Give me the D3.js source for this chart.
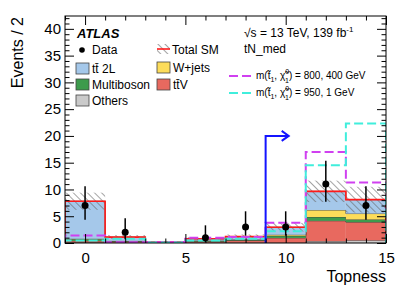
<!DOCTYPE html>
<html>
<head>
<meta charset="utf-8">
<script src="https://cdn.jsdelivr.net/npm/d3@7"></script>
<style>
  body { margin: 0; background: #fff; }
  svg { font-family: "Liberation Sans", Arial, sans-serif; }
</style>
</head>
<body>
<svg width="407" height="292"></svg>
<script>
// bins of width 2 from -1 to 15
var binEdges = [-1, 1, 3, 5, 7, 9, 11, 13, 15];
var binCenters = [0, 2, 4, 6, 8, 10, 12, 14];

// data and its Poisson error bars
var data   = [7, 2, 0, 1, 3, 3, 11, 7];
var dataLo = [4.35, 0.71, 0, 0.17, 1.37, 1.37, 7.7, 4.35];
var dataHi = [10.58, 4.64, 0, 3.3, 5.92, 5.92, 15.35, 10.58];

// backgrounds, stacked bottom to top
var others     = [0.1, 0.05, 0.02, 0.05, 0.05, 0.05, 0.35, 0.5];
var ttV        = [0.3, 0.2, 0.05, 0.2, 0.4, 0.9, 3.8, 3.4];
var multiboson = [0.3, 0.1, 0.05, 0.1, 0.1, 0.4, 0.7, 0.5];
var wjets      = [0.1, 0.05, 0.03, 0.1, 0.1, 0.2, 1.3, 1.1];
var tt2L       = [7.0, 0.7, 0.05, 0.35, 0.55, 1.4, 3.5, 2.6];
var totalUnc   = [1.6, 0.4, 0.1, 0.3, 0.4, 0.8, 2.0, 2.4];

// signals (not stacked)
var sig800 = [1.4, 0.15, 0.15, 1.0, 1.1, 3.8, 17.0, 11.3];
var sig950 = [0.45, 0.8, 0.1, 0.45, 0.8, 2.2, 14.5, 22.3];

var yMajor = [0, 5, 10, 15, 20, 25, 30, 35, 40];
var xMajor = [0, 5, 10, 15];

var svg = d3.select("svg"),
    pLeft = 65, pRight = 386, pTop = 16, pBottom = 243;

var x = d3.scaleLinear().domain([-1, 15]).range([pLeft, pRight]);
var y = d3.scaleLinear().domain([0, 42.4]).range([pBottom, pTop]);

var defs = svg.append("defs");
defs.append("pattern")
    .attr("id", "hatch")
    .attr("patternUnits", "userSpaceOnUse")
    .attr("width", 5).attr("height", 5)
    .attr("patternTransform", "rotate(-45)")
    .append("line")
    .attr("x1", 0).attr("y1", 0).attr("x2", 0).attr("y2", 5)
    .attr("stroke", "#666").attr("stroke-width", 1.2);

defs.append("clipPath").attr("id", "plotclip")
    .append("rect").attr("x", pLeft).attr("y", pTop)
    .attr("width", pRight - pLeft).attr("height", pBottom - pTop);

var layers = [
    {name: "Others", vals: others, color: "#cacaca"},
    {name: "ttV", vals: ttV, color: "#e8695f"},
    {name: "Multiboson", vals: multiboson, color: "#3d9b4c"},
    {name: "W+jets", vals: wjets, color: "#fcdc5a"},
    {name: "tt2L", vals: tt2L, color: "#a5c8ea"}
];

function stepPath(vals) {
    var p = "";
    vals.forEach(function(v, i) {
        var x0 = x(binEdges[i]), x1 = x(binEdges[i + 1]), yy = y(v);
        p += (i === 0 ? "M" + x0 + "," + y(0) + "L" : "L") + x0 + "," + yy + "L" + x1 + "," + yy;
    });
    p += "L" + x(binEdges[binEdges.length - 1]) + "," + y(0);
    return p;
}

var plot = svg.append("g").attr("clip-path", "url(#plotclip)");

// stacked histogram
var base = binCenters.map(function() { return 0; });
layers.forEach(function(l) {
    var rows = binCenters.map(function(c, i) {
        var r = {i: i, y0: base[i], y1: base[i] + l.vals[i]};
        base[i] = r.y1;
        return r;
    });
    plot.append("g").selectAll("rect")
        .data(rows).enter().append("rect")
        .attr("x", function(d) { return x(binEdges[d.i]); })
        .attr("width", function(d) { return x(binEdges[d.i + 1]) - x(binEdges[d.i]); })
        .attr("y", function(d) { return y(d.y1); })
        .attr("height", function(d) { return y(d.y0) - y(d.y1); })
        .attr("fill", l.color);
    // thin dark outline on top of each layer
    plot.append("path")
        .attr("d", stepPath(rows.map(function(d) { return d.y1; })))
        .attr("fill", "none").attr("stroke", "#333").attr("stroke-width", 0.8);
});
var total = base.slice();

// uncertainty band
plot.append("g").selectAll("rect")
    .data(total).enter().append("rect")
    .attr("x", function(d, i) { return x(binEdges[i]); })
    .attr("width", function(d, i) { return x(binEdges[i + 1]) - x(binEdges[i]); })
    .attr("y", function(d, i) { return y(d + totalUnc[i]); })
    .attr("height", function(d, i) { return y(Math.max(0, d - totalUnc[i])) - y(d + totalUnc[i]); })
    .attr("fill", "url(#hatch)");

// total SM line
plot.append("path").attr("d", stepPath(total))
    .attr("fill", "none").attr("stroke", "#ff1a1a").attr("stroke-width", 1.6);

// signals
plot.append("path").attr("d", stepPath(sig800))
    .attr("fill", "none").attr("stroke", "#d040f0").attr("stroke-width", 2)
    .attr("stroke-dasharray", "9,4");
plot.append("path").attr("d", stepPath(sig950))
    .attr("fill", "none").attr("stroke", "#40eedc").attr("stroke-width", 2)
    .attr("stroke-dasharray", "9,4");

// selection arrow
var ax = x(9), ay = y(20);
svg.append("path")
    .attr("d", "M" + ax + "," + y(0) + "V" + ay + "H" + (x(10) + 2))
    .attr("fill", "none").attr("stroke", "#1414ff").attr("stroke-width", 2);
svg.append("path")
    .attr("d", "M" + (x(10) - 4) + "," + (ay - 5) + "L" + (x(10) + 3) + "," + ay + "L" + (x(10) - 4) + "," + (ay + 5))
    .attr("fill", "none").attr("stroke", "#1414ff").attr("stroke-width", 2);

// data points
var pts = binCenters.map(function(c, i) {
    return {x: c, n: data[i], lo: dataLo[i], hi: dataHi[i]};
}).filter(function(d) { return d.n > 0; });
var dg = svg.append("g");
dg.selectAll("line").data(pts).enter().append("line")
    .attr("x1", function(d) { return x(d.x); }).attr("x2", function(d) { return x(d.x); })
    .attr("y1", function(d) { return y(d.lo); }).attr("y2", function(d) { return y(d.hi); })
    .attr("stroke", "#000").attr("stroke-width", 1.5);
dg.selectAll("circle").data(pts).enter().append("circle")
    .attr("cx", function(d) { return x(d.x); }).attr("cy", function(d) { return y(d.n); })
    .attr("r", 3.5).attr("fill", "#000");

// axes with inward ticks
function styleAxis(g) { g.select(".domain").remove(); g.selectAll("line").attr("stroke", "#000"); }
var yMinor = d3.range(0, 43, 1).filter(function(v) { return v % 5 !== 0; });
var xMinor = d3.range(-1, 16, 1).filter(function(v) { return v % 5 !== 0; });

svg.append("g").attr("transform", "translate(" + pLeft + ",0)")
    .call(d3.axisLeft(y).tickValues(yMajor).tickSize(-9).tickPadding(4))
    .call(styleAxis)
    .selectAll("text").attr("font-size", 15).attr("font-family", "Liberation Sans, Arial, sans-serif").attr("fill", "#000");
svg.append("g").attr("transform", "translate(" + pLeft + ",0)")
    .call(d3.axisLeft(y).tickValues(yMinor).tickSize(-4.5).tickFormat(""))
    .call(styleAxis);
svg.append("g").attr("transform", "translate(" + pRight + ",0)")
    .call(d3.axisRight(y).tickValues(yMajor).tickSize(-9).tickFormat(""))
    .call(styleAxis);
svg.append("g").attr("transform", "translate(" + pRight + ",0)")
    .call(d3.axisRight(y).tickValues(yMinor).tickSize(-4.5).tickFormat(""))
    .call(styleAxis);

svg.append("g").attr("transform", "translate(0," + pBottom + ")")
    .call(d3.axisBottom(x).tickValues(xMajor).tickSize(-9).tickPadding(6))
    .call(styleAxis)
    .selectAll("text").attr("font-size", 15).attr("font-family", "Liberation Sans, Arial, sans-serif").attr("fill", "#000")
    .attr("dy", "0.9em");
svg.append("g").attr("transform", "translate(0," + pBottom + ")")
    .call(d3.axisBottom(x).tickValues(xMinor).tickSize(-4.5).tickFormat(""))
    .call(styleAxis);
svg.append("g").attr("transform", "translate(0," + pTop + ")")
    .call(d3.axisTop(x).tickValues(xMajor).tickSize(-9).tickFormat(""))
    .call(styleAxis);
svg.append("g").attr("transform", "translate(0," + pTop + ")")
    .call(d3.axisTop(x).tickValues(xMinor).tickSize(-4.5).tickFormat(""))
    .call(styleAxis);

svg.append("rect").attr("x", pLeft).attr("y", pTop)
    .attr("width", pRight - pLeft).attr("height", pBottom - pTop)
    .attr("fill", "none").attr("stroke", "#000").attr("stroke-width", 1);

// axis titles
svg.append("text").attr("transform", "translate(23,17) rotate(-90)")
    .attr("text-anchor", "end").attr("font-size", 16).text("Events / 2");
svg.append("text").attr("x", pRight).attr("y", 282)
    .attr("text-anchor", "end").attr("font-size", 16).text("Topness");

// labels
svg.append("text").attr("x", 77).attr("y", 38)
    .attr("font-size", 13).attr("font-weight", "bold").attr("font-style", "italic").text("ATLAS");
var lum = svg.append("text").attr("x", 244).attr("y", 37).attr("font-size", 12);
lum.append("tspan").text("\u221As = 13 TeV, 139 fb");
lum.append("tspan").attr("font-size", 8).attr("dy", -5).text("-1");
svg.append("text").attr("x", 244).attr("y", 53).attr("font-size", 12).text("tN_med");

// legend
var leg = svg.append("g").attr("font-size", 12);
leg.append("circle").attr("cx", 82).attr("cy", 50).attr("r", 2.8).attr("fill", "#000");
leg.append("text").attr("x", 92).attr("y", 54).text("Data");

var boxes = [
    {x: 76, y: 63, color: "#a5c8ea", label: "t\u0074\u0304 2L"},
    {x: 76, y: 79, color: "#3d9b4c", label: "Multiboson"},
    {x: 76, y: 95, color: "#cacaca", label: "Others"},
    {x: 157, y: 62, color: "#fcdc5a", label: "W+jets"},
    {x: 157, y: 79, color: "#e8695f", label: "t\u0074\u0304V"}
];
boxes.forEach(function(b) {
    leg.append("rect").attr("x", b.x).attr("y", b.y).attr("width", 13).attr("height", 11)
        .attr("fill", b.color).attr("stroke", "#444").attr("stroke-width", 0.8);
    leg.append("text").attr("x", b.x + 16).attr("y", b.y + 10).text(b.label);
});
leg.append("rect").attr("x", 157).attr("y", 44).attr("width", 13).attr("height", 10)
    .attr("fill", "url(#hatch)");
leg.append("line").attr("x1", 157).attr("x2", 170).attr("y1", 49).attr("y2", 49)
    .attr("stroke", "#ff1a1a").attr("stroke-width", 1.6);
leg.append("text").attr("x", 172).attr("y", 54).text("Total SM");

var sigLeg = [
    {y: 76, color: "#d040f0", mass: " = 800, 400 GeV"},
    {y: 93, color: "#40eedc", mass: " = 950, 1 GeV"}
];
sigLeg.forEach(function(s) {
    leg.append("line").attr("x1", 229).attr("x2", 251).attr("y1", s.y).attr("y2", s.y)
        .attr("stroke", s.color).attr("stroke-width", 2).attr("stroke-dasharray", "9,4");
    var t = leg.append("text").attr("x", 256).attr("y", s.y + 3).attr("font-size", 10);
    t.append("tspan").text("m(t\u0303");
    t.append("tspan").attr("font-size", 7).attr("dy", 3).text("1");
    t.append("tspan").attr("dy", -3).text(", \u03c7\u0303");
    t.append("tspan").attr("font-size", 7).attr("dy", -5).text("0");
    t.append("tspan").attr("font-size", 7).attr("dx", -4).attr("dy", 9).text("1");
    t.append("tspan").attr("dy", -4).text(")" + s.mass);
});
</script>
</body>
</html>
